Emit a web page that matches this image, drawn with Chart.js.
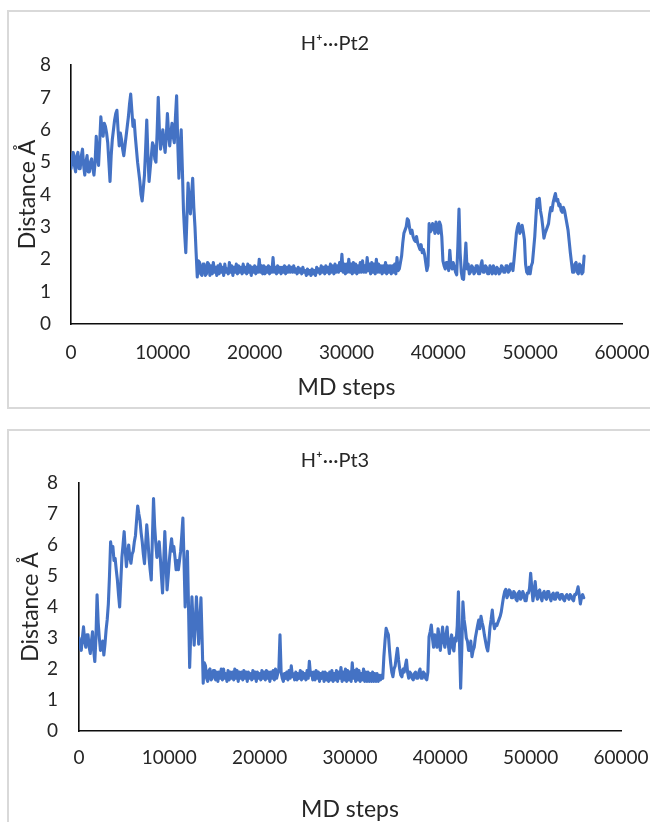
<!DOCTYPE html>
<html>
<head>
<meta charset="utf-8">
<script src="https://cdn.jsdelivr.net/npm/chart.js@4/dist/chart.umd.min.js"></script>
<style>
html,body{margin:0;padding:0;background:#fff;overflow:hidden;width:650px;height:822px;}
.frame{position:absolute;border:2px solid #d9d9d9;box-sizing:border-box;}
canvas{position:absolute;left:0;}
</style>
</head>
<body>
<div class="frame" style="left:7px;top:10px;width:720px;height:399px;"></div>
<div class="frame" style="left:7px;top:429px;width:720px;height:450px;"></div>
<canvas id="c1" width="670" height="410" style="top:0px"></canvas>
<canvas id="c2" width="670" height="407" style="top:415px"></canvas>
<script>
// ---- data ----
const chartTitles = ['H\u207A\u00B7\u00B7\u00B7Pt2', 'H\u207A\u00B7\u00B7\u00B7Pt3'];
const xAxisTitle = 'MD steps';
const yAxisTitle = 'Distance \u00C5';
const xTickValues = [0, 10000, 20000, 30000, 40000, 50000, 60000];
const yTickValues = [0, 1, 2, 3, 4, 5, 6, 7, 8];
const sampleInterval = 125; // MD steps between samples

// H+...Pt2 distance (Å), one row per 1000 MD steps
const pt2Distance = [
  4.8, 5.1, 5.3, 4.9, 4.7, 5.2, 5.3, 4.8,
  4.8, 5.2, 5.4, 4.9, 4.6, 5.0, 5.2, 4.7,
  4.7, 5.0, 5.1, 4.8, 4.6, 5.0, 5.8, 5.2,
  4.9, 5.6, 6.4, 6.0, 5.8, 6.2, 6.1, 5.9,
  5.6, 5.0, 4.4, 5.2, 5.7, 6.0, 6.3, 6.5,
  6.6, 6.0, 5.5, 5.9, 5.7, 5.4, 5.2, 5.5,
  5.8, 6.1, 6.4, 6.8, 7.1, 6.6, 6.1, 6.3,
  5.8, 5.4, 5.0, 4.7, 4.4, 4.0, 3.8, 4.2,
  4.6, 5.4, 6.3, 5.2, 4.4, 4.8, 5.2, 5.6,
  5.5, 5.1, 5.0, 5.9, 7.0, 6.0, 5.4, 5.7,
  6.0, 5.6, 5.3, 5.8, 6.5, 5.9, 5.5, 5.9,
  6.2, 5.8, 5.6, 6.4, 7.05, 5.6, 4.5, 5.4,
  6.0, 4.8, 3.5, 2.8, 2.2, 3.3, 4.35, 3.8,
  3.4, 4.0, 4.5, 3.6, 3.0, 2.2, 1.45, 1.95,
  1.9, 1.55, 1.5, 1.85, 1.85, 1.5, 1.55, 1.9,
  1.85, 1.5, 1.8, 1.55, 1.9, 1.6, 1.75, 1.5,
  1.8, 1.55, 1.85, 1.6, 1.75, 1.5, 1.85, 1.6,
  1.7, 1.55, 1.9, 1.6, 1.8, 1.5, 1.75, 1.6,
  1.85, 1.55, 1.8, 1.6, 1.75, 1.55, 1.85, 1.6,
  1.75, 1.55, 1.85, 1.6, 1.8, 1.5, 1.75, 1.6,
  1.8, 1.55, 1.75, 1.6, 2.0, 1.6, 1.8, 1.55,
  1.8, 1.55, 1.75, 1.6, 1.8, 1.55, 1.75, 1.6,
  2.05, 1.6, 1.75, 1.55, 1.8, 1.6, 1.75, 1.55,
  1.75, 1.6, 1.8, 1.55, 1.75, 1.6, 1.8, 1.6,
  1.75, 1.6, 1.8, 1.6, 1.7, 1.55, 1.75, 1.6,
  1.7, 1.55, 1.75, 1.6, 1.65, 1.5, 1.7, 1.55,
  1.65, 1.5, 1.7, 1.55, 1.65, 1.5, 1.75, 1.6,
  1.7, 1.55, 1.8, 1.6, 1.75, 1.55, 1.8, 1.6,
  1.75, 1.55, 1.85, 1.6, 1.8, 1.55, 1.85, 1.6,
  1.8, 1.6, 1.9, 1.65, 2.15, 1.6, 1.85, 1.55,
  1.85, 1.6, 2.0, 1.6, 1.85, 1.55, 1.9, 1.6,
  1.85, 1.55, 1.8, 1.6, 1.9, 1.6, 1.95, 1.6,
  1.8, 1.6, 2.05, 1.65, 1.85, 1.55, 1.9, 1.6,
  1.85, 1.55, 2.0, 1.6, 1.85, 1.6, 1.8, 1.55,
  1.8, 1.6, 1.9, 1.55, 1.8, 1.6, 1.8, 1.55,
  1.8, 1.6, 1.85, 1.55, 2.05, 1.65, 1.7, 1.9,
  2.1, 2.5, 2.8, 2.9, 3.0, 3.25, 3.2, 2.95,
  2.8, 2.9, 2.7, 2.6, 2.55, 2.7, 2.5, 2.4,
  2.3, 2.45, 2.2, 2.3, 2.15, 1.9, 1.65, 1.8,
  3.1, 2.85, 2.9, 3.1, 3.05, 2.8, 3.15, 2.9,
  2.8, 3.15, 3.05, 2.7, 1.95, 1.8, 1.7, 1.9,
  1.9, 1.65, 2.28, 1.8, 1.7, 1.9, 1.75, 1.6,
  1.52, 2.4, 3.55, 2.2, 1.6, 1.4, 1.38, 1.9,
  2.5, 1.7, 1.85, 1.55, 1.6, 1.8, 1.75, 1.55,
  1.6, 1.8, 1.8, 1.55, 1.55, 1.8, 1.95, 1.6,
  1.6, 1.8, 1.75, 1.55, 1.55, 1.8, 1.7, 1.55,
  1.8, 1.6, 1.55, 1.75, 1.7, 1.55, 1.6, 1.8,
  1.75, 1.6, 1.6, 1.8, 1.8, 1.6, 1.65, 1.85,
  1.85, 1.65, 2.0, 2.4, 2.8, 3.0, 3.1, 2.8,
  2.9, 3.05, 2.85, 2.6, 1.85, 1.6, 1.55, 1.75,
  1.55, 1.8, 1.9, 2.3, 2.7, 3.3, 3.85, 3.6,
  3.88, 3.5, 3.3, 3.0, 2.65, 2.8, 2.9, 3.0,
  3.1, 3.4, 3.6, 3.5, 3.75, 3.9, 4.03, 3.8,
  3.85, 3.65, 3.7, 3.5, 3.45, 3.6, 3.5, 3.3,
  3.1, 2.9, 2.55, 2.2, 1.9, 1.6, 1.6, 1.85,
  1.9, 1.6, 1.55, 1.85, 1.8, 1.55, 1.6, 2.1
];

// H+...Pt3 distance (Å), one row per 1000 MD steps
const pt3Distance = [
  3.0, 2.7, 2.6, 3.0, 3.36, 2.9, 2.7, 3.1,
  3.1, 2.7, 2.5, 2.9, 3.2, 2.6, 2.24, 3.0,
  4.39, 3.5, 3.0, 2.6, 2.7, 2.9, 2.45, 2.8,
  3.26, 3.6, 4.1, 5.0, 6.1, 5.8, 5.95, 5.5,
  5.57, 5.2, 4.87, 4.4, 4.0, 4.8, 5.6, 6.0,
  6.43, 5.8, 5.3, 5.7, 6.0, 5.6, 5.41, 5.7,
  5.8, 6.1, 6.3, 6.8, 7.26, 7.0, 6.8, 6.4,
  6.1, 5.7, 5.4, 6.0, 6.65, 6.2, 5.6, 5.2,
  4.87, 6.2, 7.5, 6.6, 6.06, 5.6, 5.8, 6.1,
  5.6, 5.0, 4.45, 5.4, 6.43, 5.5, 4.55, 5.0,
  5.5, 5.9, 6.2, 5.8, 5.95, 5.6, 5.2, 5.5,
  5.2, 5.5, 5.8, 6.3, 6.87, 5.5, 4.0, 4.9,
  5.8, 4.0, 2.05, 3.2, 4.33, 3.5, 2.77, 3.5,
  4.33, 3.6, 2.8, 3.5, 4.3, 3.0, 1.54, 2.2,
  2.1, 1.7, 1.6, 1.95, 2.0, 1.65, 1.7, 1.95,
  1.95, 1.65, 1.9, 1.6, 1.9, 1.7, 2.0, 1.65,
  2.0, 1.7, 1.85, 1.6, 1.95, 1.65, 1.9, 1.7,
  1.9, 1.65, 2.0, 1.7, 1.95, 1.6, 1.9, 1.7,
  1.9, 1.65, 1.95, 1.7, 1.9, 1.6, 1.9, 1.7,
  1.85, 1.65, 1.95, 1.7, 1.9, 1.6, 1.9, 1.7,
  1.85, 1.65, 1.95, 1.7, 1.9, 1.65, 1.95, 1.7,
  1.9, 1.6, 1.9, 1.7, 1.95, 1.65, 2.0, 1.7,
  1.85, 2.0, 3.1, 1.9, 1.7, 1.6, 1.85, 1.7,
  1.9, 1.65, 1.95, 1.7, 2.1, 1.75, 1.85, 1.65,
  1.9, 1.65, 1.85, 1.7, 1.95, 1.65, 1.9, 1.7,
  1.85, 1.65, 1.95, 1.7, 2.25, 1.8, 1.9, 1.65,
  1.9, 1.65, 1.95, 1.7, 1.9, 1.6, 1.85, 1.7,
  1.9, 1.6, 1.9, 1.65, 1.85, 1.6, 1.9, 1.65,
  1.95, 1.6, 1.85, 1.65, 1.95, 1.6, 1.9, 1.7,
  2.05, 1.6, 1.9, 1.65, 2.0, 1.6, 1.95, 1.65,
  1.9, 1.6, 2.2, 1.7, 1.95, 1.6, 2.0, 1.65,
  1.95, 1.6, 1.85, 1.65, 2.0, 1.6, 1.9, 1.6,
  1.9, 1.6, 1.85, 1.6, 1.9, 1.6, 1.85, 1.6,
  1.85, 1.6, 1.8, 1.65, 1.8, 1.7, 2.4, 2.9,
  3.31, 3.2, 3.1, 2.6, 2.2, 1.9, 1.75, 2.0,
  2.1, 2.4, 2.67, 2.3, 2.0, 1.8, 1.75, 2.0,
  1.9, 2.1, 2.29, 1.9, 1.7, 1.9, 1.85, 1.7,
  1.65, 1.85, 1.9, 1.7, 1.7, 1.9, 2.0, 1.7,
  1.7, 1.9, 1.85, 1.7, 1.65, 1.9, 3.04, 3.2,
  3.42, 3.0, 2.7, 3.1, 2.95, 2.7, 3.3, 3.0,
  2.6, 3.0, 3.35, 2.9, 2.7, 3.1, 3.35, 2.8,
  2.5, 2.9, 3.1, 2.7, 2.58, 3.0, 2.9, 3.4,
  4.49, 2.8, 1.38, 2.6, 4.17, 3.6, 3.35, 3.0,
  2.9, 2.6, 2.6, 2.9, 2.4, 2.6, 2.7, 3.0,
  3.2, 3.4, 3.58, 3.3, 3.7, 3.5, 3.35, 3.1,
  2.9, 2.7, 2.58, 2.9, 3.35, 3.6, 3.9, 3.5,
  3.3, 3.45, 3.4, 3.5, 3.6, 3.7, 3.85, 4.1,
  4.33, 4.5, 4.57, 4.3, 4.4, 4.55, 4.5, 4.3,
  4.3, 4.5, 4.45, 4.25, 4.2, 4.45, 4.5, 4.25,
  4.3, 4.5, 4.4, 4.2, 4.2, 4.45, 4.45, 4.6,
  5.09, 4.6, 4.2, 4.5, 4.82, 4.4, 4.25, 4.5,
  4.55, 4.3, 4.2, 4.45, 4.5, 4.3, 4.25, 4.5,
  4.5, 4.3, 4.2, 4.4, 4.45, 4.25, 4.25, 4.45,
  4.45, 4.3, 4.25, 4.4, 4.4, 4.25, 4.2, 4.35,
  4.4, 4.3, 4.25, 4.4, 4.35, 4.25, 4.2, 4.4,
  4.4, 4.5, 4.65, 4.4, 4.1, 4.3, 4.4, 4.3
];

// ---- styling ----
const FONT = 'Lato, "Open Sans", sans-serif';
const TEXT = '#262626';
const LINE = '#4472C4';

function makeChart(canvasId, title, values, g) {
  const steps = values.map((_, i) => i * sampleInterval);
  const points = values.map((v, i) => ({ x: steps[i], y: v }));
  return new Chart(document.getElementById(canvasId), {
    type: 'line',
    data: { datasets: [{ data: points, borderColor: LINE, borderWidth: 3.1,
      pointRadius: 0, tension: 0, borderJoinStyle: 'round', borderCapStyle: 'round', fill: false }] },
    options: {
      responsive: false, animation: false, devicePixelRatio: 1,
      layout: { padding: 0 },
      plugins: {
        legend: { display: false }, tooltip: { enabled: false },
        title: { display: true, text: title, color: TEXT,
          font: { family: FONT, size: 20, weight: 'normal', lineHeight: 1.2 },
          padding: { top: g.titleTop, bottom: g.titleBottom } }
      },
      scales: {
        x: {
          type: 'linear', min: 0, max: 60000,
          afterBuildTicks: s => { s.ticks = xTickValues.map(v => ({ value: v })); },
          afterFit: s => { s.height = g.xHeight; },
          ticks: { color: TEXT, font: { family: FONT, size: 19, lineHeight: 1.2 },
            padding: g.xTickPad, maxRotation: 0, autoSkip: false, callback: v => String(v) },
          grid: { display: false, drawTicks: false },
          border: { display: true, color: '#0d0d0d', width: 1.6 },
          title: { display: true, text: xAxisTitle, color: TEXT,
            font: { family: FONT, size: 23, lineHeight: 1 }, padding: { top: 0, bottom: g.xTitlePad } }
        },
        y: {
          min: 0, max: 8,
          afterBuildTicks: s => { s.ticks = yTickValues.map(v => ({ value: v })); },
          afterFit: s => { s.width = g.yWidth; },
          ticks: { color: TEXT, font: { family: FONT, size: 19, lineHeight: 1.2 },
            padding: g.yTickPad, callback: v => String(v) },
          grid: { display: false, drawTicks: false },
          border: { display: true, color: '#0d0d0d', width: 1.6 },
          title: { display: true, text: yAxisTitle, color: TEXT,
            font: { family: FONT, size: 23, lineHeight: 1 }, padding: { top: g.yTitlePad, bottom: 0 } }
        },
        // empty right-hand axis that only reserves the space right of the plot
        yRight: {
          position: 'right', display: true,
          afterFit: s => { s.width = g.rightWidth; },
          ticks: { display: false },
          grid: { display: false, drawTicks: false },
          border: { display: false }
        }
      }
    }
  });
}

makeChart('c1', chartTitles[0], pt2Distance, {
  rightWidth: 48, titleTop: 32, titleBottom: 9, xHeight: 86, xTickPad: 17.6,
  xTitlePad: 10.5, yWidth: 71, yTickPad: 20, yTitlePad: 16.5
});
makeChart('c2', chartTitles[1], pt3Distance, {
  rightWidth: 49, titleTop: 34, titleBottom: 10, xHeight: 91, xTickPad: 15.6,
  xTitlePad: 0.5, yWidth: 79, yTickPad: 21, yTitlePad: 19.5
});
</script>
</body>
</html>
